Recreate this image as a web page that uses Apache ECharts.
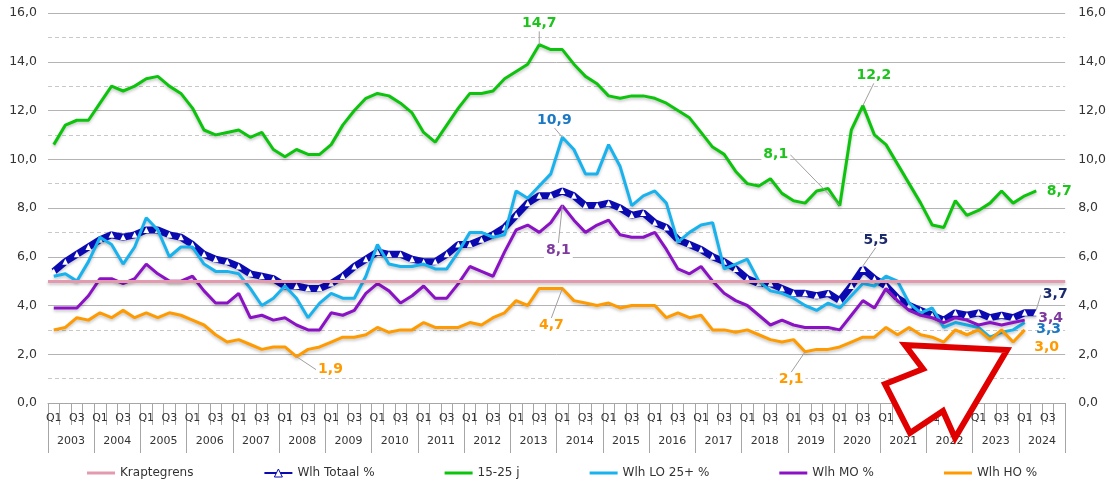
<!DOCTYPE html>
<html>
<head>
<meta charset="utf-8">
<script src="https://cdn.jsdelivr.net/npm/echarts@6/dist/echarts.min.js"></script>
<style>
  html, body { margin: 0; padding: 0; background: #fff; }
  #chart { width: 1109px; height: 481px; }
</style>
</head>
<body>
<div id="chart"></div>
<script>
// jaren en kwartalen op de x-as
const years = ['2003', '2004', '2005', '2006', '2007', '2008', '2009', '2010', '2011', '2012', '2013',
  '2014', '2015', '2016', '2017', '2018', '2019', '2020', '2021', '2022', '2023', '2024'];
const quarterNames = ['Q1', 'Q2', 'Q3', 'Q4'];

const kraptegrens = 5.0;

const totaal = [
  5.4, 5.8, 6.1, 6.4, 6.7, 6.9, 6.8, 6.9, 7.1, 7.1,
  6.9, 6.8, 6.5, 6.1, 5.9, 5.8, 5.6, 5.3, 5.2, 5.1,
  4.8, 4.8, 4.7, 4.7, 4.9, 5.2, 5.6, 5.9, 6.2, 6.1,
  6.1, 5.9, 5.8, 5.8, 6.1, 6.5, 6.5, 6.7, 6.9, 7.2,
  7.7, 8.2, 8.5, 8.5, 8.7, 8.5, 8.1, 8.1, 8.2, 8.0,
  7.7, 7.8, 7.4, 7.2, 6.7, 6.5, 6.3, 6.0, 5.8, 5.5,
  5.1, 4.9, 4.9, 4.7, 4.5, 4.5, 4.4, 4.5, 4.2, 4.8,
  5.5, 5.1, 4.8, 4.3, 4.0, 3.8, 3.6, 3.4, 3.7, 3.6,
  3.7, 3.5, 3.6, 3.5, 3.7, 3.7
];

const jongeren = [
  10.6, 11.4, 11.6, 11.6, 12.3, 13.0, 12.8, 13.0, 13.3, 13.4,
  13.0, 12.7, 12.1, 11.2, 11.0, 11.1, 11.2, 10.9, 11.1, 10.4,
  10.1, 10.4, 10.2, 10.2, 10.6, 11.4, 12.0, 12.5, 12.7, 12.6,
  12.3, 11.9, 11.1, 10.7, 11.4, 12.1, 12.7, 12.7, 12.8, 13.3,
  13.6, 13.9, 14.7, 14.5, 14.5, 13.9, 13.4, 13.1, 12.6, 12.5,
  12.6, 12.6, 12.5, 12.3, 12.0, 11.7, 11.1, 10.5, 10.2, 9.5,
  9.0, 8.9, 9.2, 8.6, 8.3, 8.2, 8.7, 8.8, 8.1, 11.2,
  12.2, 11.0, 10.6, 9.8, 9.0, 8.2, 7.3, 7.2, 8.3, 7.7,
  7.9, 8.2, 8.7, 8.2, 8.5, 8.7
];

const lo25 = [
  5.2, 5.3, 5.0, 5.8, 6.8, 6.5, 5.7, 6.4, 7.6, 7.1,
  6.0, 6.4, 6.4, 5.7, 5.4, 5.4, 5.3, 4.7, 4.0, 4.3,
  4.8, 4.3, 3.5, 4.1, 4.5, 4.3, 4.3, 5.2, 6.5, 5.7,
  5.6, 5.6, 5.7, 5.5, 5.5, 6.2, 7.0, 7.0, 6.8, 6.9,
  8.7, 8.4, 8.9, 9.4, 10.9, 10.4, 9.4, 9.4, 10.6, 9.7,
  8.1, 8.5, 8.7, 8.2, 6.6, 7.0, 7.3, 7.4, 5.5, 5.7,
  5.9, 5.0, 4.6, 4.5, 4.3, 4.0, 3.8, 4.1, 3.9, 4.4,
  4.9, 4.8, 5.2, 5.0, 4.1, 3.7, 3.9, 3.1, 3.3, 3.2,
  3.1, 2.7, 2.9, 3.0, 3.3
];

const mo = [
  3.9, 3.9, 3.9, 4.4, 5.1, 5.1, 4.9, 5.1, 5.7, 5.3,
  5.0, 5.0, 5.2, 4.6, 4.1, 4.1, 4.5, 3.5, 3.6, 3.4,
  3.5, 3.2, 3.0, 3.0, 3.7, 3.6, 3.8, 4.5, 4.9, 4.6,
  4.1, 4.4, 4.8, 4.3, 4.3, 4.9, 5.6, 5.4, 5.2, 6.2,
  7.1, 7.3, 7.0, 7.4, 8.1, 7.5, 7.0, 7.3, 7.5, 6.9,
  6.8, 6.8, 7.0, 6.3, 5.5, 5.3, 5.6, 5.0, 4.5, 4.2,
  4.0, 3.6, 3.2, 3.4, 3.2, 3.1, 3.1, 3.1, 3.0, 3.6,
  4.2, 3.9, 4.7, 4.2, 3.8, 3.6, 3.5, 3.3, 3.5, 3.4,
  3.2, 3.3, 3.2, 3.3, 3.4
];

const ho = [
  3.0, 3.1, 3.5, 3.4, 3.7, 3.5, 3.8, 3.5, 3.7, 3.5,
  3.7, 3.6, 3.4, 3.2, 2.8, 2.5, 2.6, 2.4, 2.2, 2.3,
  2.3, 1.9, 2.2, 2.3, 2.5, 2.7, 2.7, 2.8, 3.1, 2.9,
  3.0, 3.0, 3.3, 3.1, 3.1, 3.1, 3.3, 3.2, 3.5, 3.7,
  4.2, 4.0, 4.7, 4.7, 4.7, 4.2, 4.1, 4.0, 4.1, 3.9,
  4.0, 4.0, 4.0, 3.5, 3.7, 3.5, 3.6, 3.0, 3.0, 2.9,
  3.0, 2.8, 2.6, 2.5, 2.6, 2.1, 2.2, 2.2, 2.3, 2.5,
  2.7, 2.7, 3.1, 2.8, 3.1, 2.8, 2.7, 2.5, 3.0, 2.8,
  3.0, 2.6, 3.0, 2.5, 3.0
];

// welke punten een waardelabel krijgen (index = kwartaal)
const labelPoints = {
  totaal: [70, 85],
  jongeren: [42, 68, 70, 85],
  lo25: [44, 84],
  mo: [44, 84],
  ho: [21, 44, 65, 84]
};

// verschuiving van de labels t.o.v. het punt (dx, dy, hulplijn)
const labelOffsets = {
  totaal: { 70: [13, -29, true], 85: [19, -18, true] },
  jongeren: { 42: [0, -21, true], 68: [-64, -51, true], 70: [11, -30, true], 85: [23, 0, false] },
  lo25: { 44: [-8, -17, true], 84: [24, 7, false] },
  mo: { 44: [-4, 45, true], 84: [26, -2, false] },
  ho: { 21: [34, 13, true], 44: [-11, 37, true], 65: [-14, 28, true], 84: [22, 17, false] }
};

const quarters = [];
years.forEach(function (y) {
  quarterNames.forEach(function (q) { quarters.push(q + ' ' + y); });
});

const FONT = "'DejaVu Sans', Verdana, sans-serif";
const fmt = function (v) { return Number(v).toFixed(1).replace('.', ','); };

function buildData(values, key, textColor, plainSymbol) {
  const pts = labelPoints[key];
  return values.map(function (v, i) {
    if (pts.indexOf(i) < 0) return v;
    const off = labelOffsets[key][i];
    const item = {
      value: v,
      label: {
        show: true,
        position: 'inside',
        formatter: function (p) { return fmt(p.value); },
        color: textColor,
        fontFamily: FONT,
        fontWeight: 'bold',
        fontSize: 14,
        lineHeight: 15,
        backgroundColor: off[2] ? '#fff' : 'transparent',
        padding: [0, 2]
      },
      labelLine: { show: off[2], smooth: false, lineStyle: { color: '#a0a0a0', width: 1 } }
    };
    if (plainSymbol) {
      item.symbol = 'circle';
      item.symbolSize = 0.1;
    }
    return item;
  });
}

function layoutFor(key) {
  return function (params) {
    const off = labelOffsets[key][params.dataIndex];
    if (!off) return {};
    return { dx: off[0], dy: off[1] };
  };
}

const shadow = { shadowColor: 'rgba(0,0,0,0.22)', shadowBlur: 3, shadowOffsetY: 2 };

function plainLine(name, values, key, color, textColor) {
  return {
    name: name,
    type: 'line',
    data: buildData(values, key, textColor, true),
    color: color,
    symbol: 'none',
    showSymbol: true,
    showAllSymbol: true,
    lineStyle: Object.assign({ color: color, width: 3 }, shadow),
    labelLayout: layoutFor(key),
    emphasis: { disabled: true },
    z: 3
  };
}

const chart = echarts.init(document.getElementById('chart'), null, { renderer: 'canvas' });

const gridLine = '#b4b4b4';
const barIcon = 'path://M0,0 L28,0 L28,3 L0,3 Z';

chart.setOption({
  animation: false,
  backgroundColor: '#fff',
  grid: { left: 48, right: 37, top: 13, bottom: 78, containLabel: false },
  legend: {
    left: 82,
    top: 462,
    itemGap: 70,
    itemWidth: 28,
    itemHeight: 10,
    textStyle: { fontFamily: FONT, fontSize: 12, color: '#333' },
    data: [
      { name: 'Kraptegrens', icon: barIcon },
      { name: 'Wlh Totaal %', itemStyle: { color: '#fff', borderColor: '#0a0ab0', borderWidth: 1 } },
      { name: '15-25 j', icon: barIcon },
      { name: 'Wlh LO 25+ %', icon: barIcon },
      { name: 'Wlh MO %', icon: barIcon },
      { name: 'Wlh HO %', icon: barIcon }
    ]
  },
  xAxis: [
    {
      type: 'category',
      data: quarters,
      boundaryGap: true,
      axisLine: { show: true, lineStyle: { color: '#a6a6a6' } },
      axisTick: { show: true, interval: 0, length: 22, lineStyle: { color: '#a6a6a6' } },
      axisLabel: {
        interval: 1,
        margin: 10,
        color: '#333',
        fontFamily: FONT,
        fontSize: 11,
        formatter: function (v) { return v.split(' ')[0]; }
      },
      splitLine: { show: false }
    },
    {
      type: 'category',
      data: years,
      position: 'bottom',
      boundaryGap: true,
      axisLine: { show: false },
      axisTick: { show: true, interval: 0, length: 50, lineStyle: { color: '#a6a6a6' } },
      axisLabel: { interval: 0, margin: 33, color: '#333', fontFamily: FONT, fontSize: 11 },
      splitLine: { show: false }
    }
  ],
  yAxis: [
    {
      type: 'value',
      position: 'left',
      min: 0, max: 16, interval: 2,
      axisLine: { show: false },
      axisTick: { show: false },
      axisLabel: { formatter: fmt, margin: 11, color: '#333', fontFamily: FONT, fontSize: 12.5 },
      splitLine: { show: true, lineStyle: { color: gridLine, width: 1 } },
      minorTick: { show: false, splitNumber: 2 },
      minorSplitLine: { show: true, lineStyle: { color: '#c8c8c8', type: [4, 3], width: 1 } }
    },
    {
      type: 'value',
      position: 'right',
      min: 0, max: 16, interval: 2,
      axisLine: { show: false },
      axisTick: { show: false },
      axisLabel: { formatter: fmt, margin: 13, color: '#333', fontFamily: FONT, fontSize: 12.5 },
      splitLine: { show: false }
    }
  ],
  series: [
    {
      name: 'Kraptegrens',
      type: 'line',
      data: [],
      color: '#e49aae',
      symbol: 'none',
      lineStyle: { color: '#e49aae', width: 3 },
      markLine: {
        silent: true,
        symbol: 'none',
        label: { show: false },
        lineStyle: Object.assign({ color: '#e49aae', width: 3, type: 'solid' }, shadow),
        data: [{ yAxis: kraptegrens }]
      },
      z: 1
    },
    {
      name: 'Wlh Totaal %',
      type: 'line',
      data: buildData(totaal, 'totaal', '#1b2a6b', false),
      color: '#0a0ab0',
      symbol: 'triangle',
      symbolSize: 6,
      showSymbol: true,
      showAllSymbol: true,
      itemStyle: { color: '#fff', borderWidth: 0 },
      lineStyle: Object.assign({ color: '#0a0ab0', width: 7 }, shadow),
      labelLayout: layoutFor('totaal'),
      emphasis: { disabled: true },
      z: 2
    },
    plainLine('15-25 j', jongeren, 'jongeren', '#0cc40c', '#1cc41c'),
    plainLine('Wlh LO 25+ %', lo25, 'lo25', '#18b2ee', '#1a78c4'),
    plainLine('Wlh MO %', mo, 'mo', '#8a12c4', '#7e3a9e'),
    plainLine('Wlh HO %', ho, 'ho', '#ff9a00', '#ff9a00')
  ],
  graphic: [
    {
      type: 'polygon',
      z: 100,
      shape: {
        points: [[1007, 350], [905, 345], [923, 369], [885, 384], [910, 433], [943, 411], [955, 438]]
      },
      style: { fill: '#fff', stroke: '#e00000', lineWidth: 6, lineJoin: 'miter' }
    }
  ]
});
</script>
</body>
</html>
